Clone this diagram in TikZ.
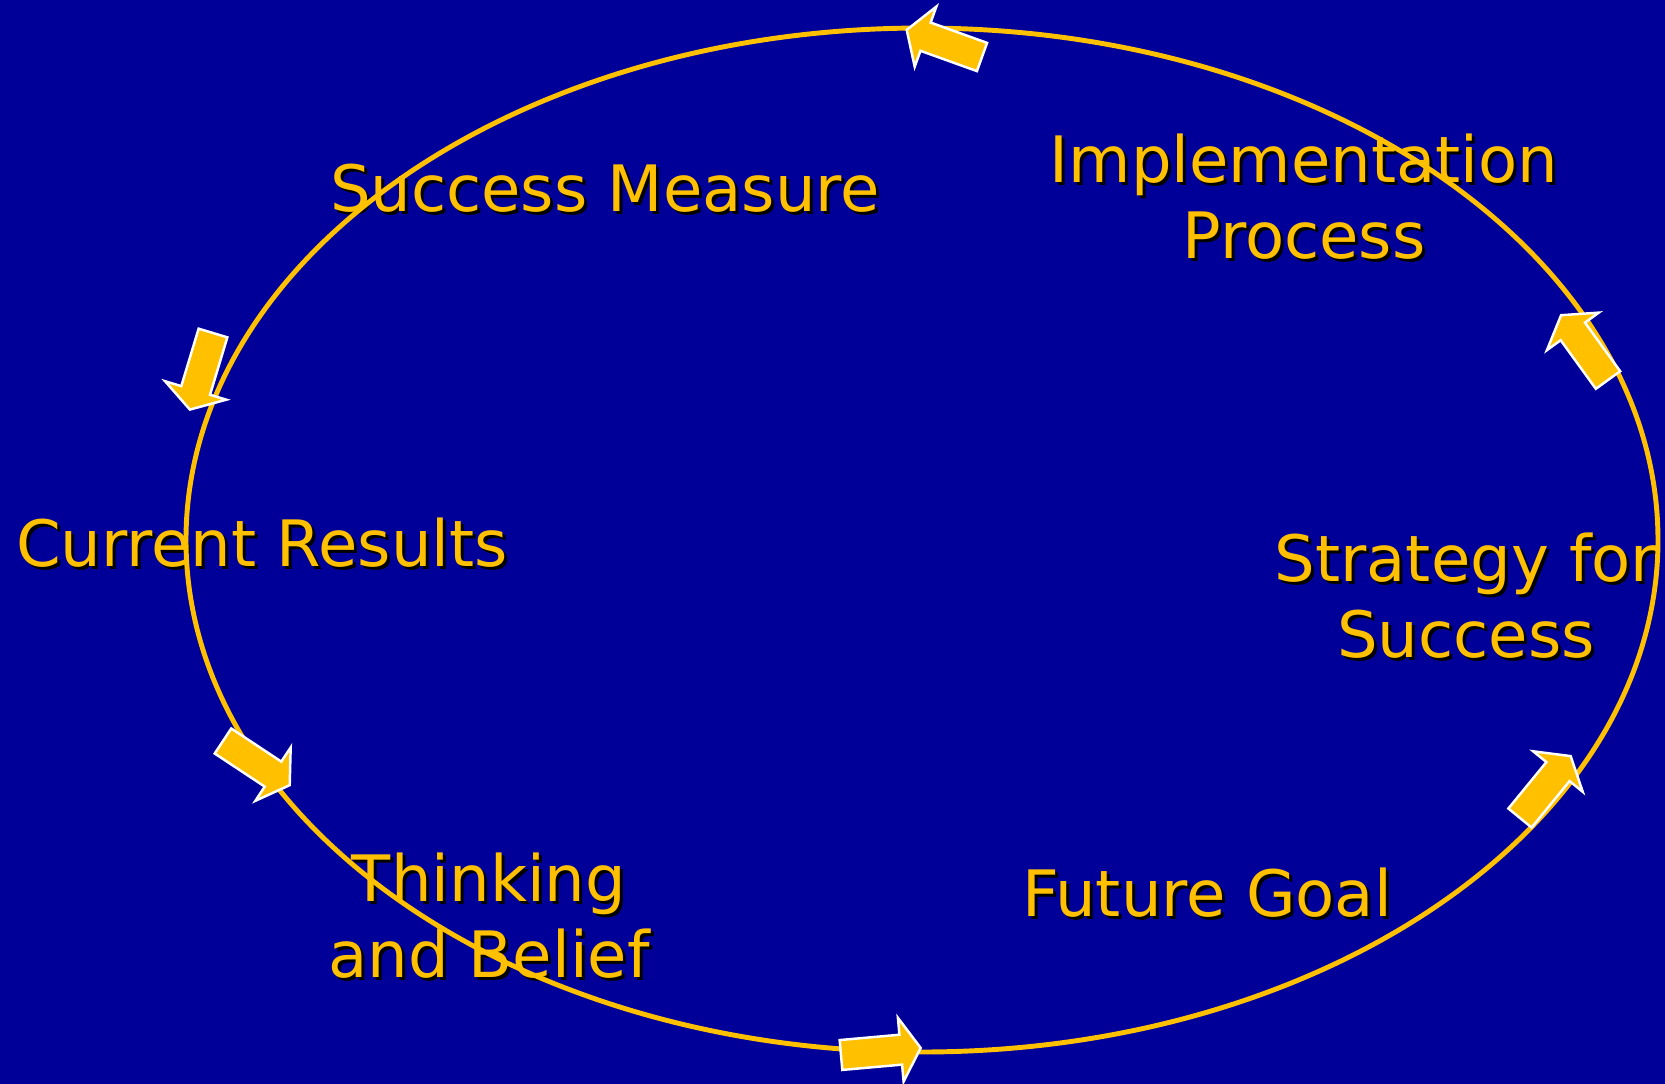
\documentclass[tikz,border=0pt]{standalone}
\usepackage{fontspec}
\setmainfont{DejaVu Sans}
\usepackage{tikz}
\usetikzlibrary{calc}

\definecolor{slideblue}{RGB}{0,0,153}
\definecolor{slidegold}{RGB}{255,192,0}

% yellow label with a black drop shadow
\newcommand{\goldlabel}[3]{%
    \node[lbl, text=black] at ($(#2)+(3,3)$) {#3};
    \node[lbl] (#1) at (#2) {#3};
}
% block arrow, tail centre #1, direction #2
\newcommand{\blockarrow}[2]{%
    \draw[blk, shift={(#1)}, rotate=#2]
        (0,-15) -- (60,-15) -- (60,-32) -- (80,0) -- (60,32) -- (60,15) -- (0,15) -- cycle;
}

\begin{document}
\begin{tikzpicture}
                [x=0.01cm,y=-0.01cm,
                 lbl/.style={text=slidegold, anchor=base, align=center, inner sep=0pt,
                             font=\fontsize{18.2}{21.5}\selectfont},
                 blk/.style={fill=slidegold, draw=white, line width=0.7pt, line join=miter}]

                \fill[slideblue] (0,0) rectangle (1665,1084);
                \useasboundingbox (0,0) rectangle (1665,1084);

                % label positions are baselines of the last line
                \coordinate (O)  at ( 922, 540);
                \coordinate (SM) at ( 605, 211);
                \coordinate (IP) at (1304, 258);
                \coordinate (SS) at (1466, 657);
                \coordinate (FG) at (1207, 916);
                \coordinate (TB) at ( 489, 977);
                \coordinate (CR) at ( 262, 566);

                \goldlabel{measure}{SM}{Success Measure}
                \goldlabel{implement}{IP}{Implementation\\Process}
                \goldlabel{strategy}{SS}{Strategy for\\Success}
                \goldlabel{goal}{FG}{Future Goal}
                \goldlabel{belief}{TB}{Thinking\\and Belief}
                \goldlabel{results}{CR}{Current Results}

                \draw[slidegold, line width=1.4pt] (O) ellipse [x radius=736, y radius=512];

                \blockarrow{982,57}{160.2}
                \blockarrow{213,333}{-106.8}
                \blockarrow{223,741}{-33.5}
                \blockarrow{841,1055}{5.1}
                \blockarrow{1520,818}{50.7}
                \blockarrow{1608,380}{125.9}
            \end{tikzpicture}
\end{document}
